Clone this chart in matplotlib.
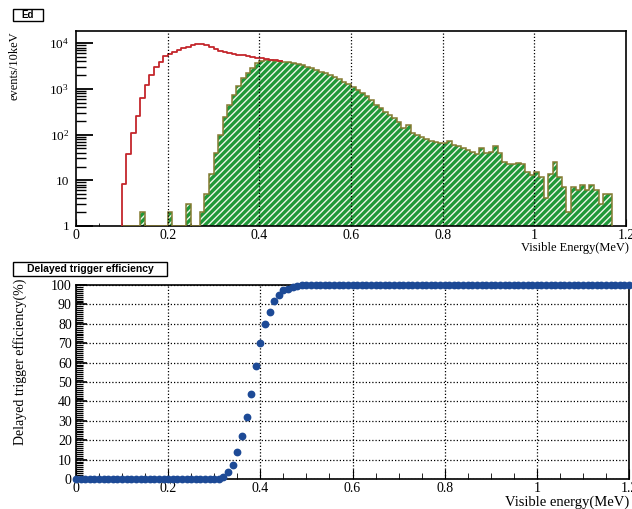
import numpy as np
import matplotlib
matplotlib.use('Agg')
import matplotlib.pyplot as plt
from matplotlib.patches import Rectangle
from matplotlib.ticker import MultipleLocator, FixedLocator, NullFormatter

plt.rcParams['font.family'] = ['Liberation Serif', 'DejaVu Serif']
plt.rcParams['mathtext.fontset'] = 'custom'
plt.rcParams['mathtext.rm'] = 'Liberation Serif'
plt.rcParams['hatch.linewidth'] = 1.0

# --- top panel: Ed spectrum, 10 keV bins ---
# all delayed candidates (red line), bins starting at 0.10 MeV
red_start = 0.10
red_counts = [8.3, 38, 107, 255, 620, 1220, 2000, 2950, 3940, 5250,
              5800, 6500, 7100, 7700, 8400, 9100, 9600, 9600, 9100, 8100,
              7350, 6750, 6300, 6000, 5800, 5600, 5400, 5200, 5000, 4850,
              4800, 4600, 4400, 4200, 4050]
# triggered events (green hatched), bins 0.10 .. 1.16 MeV
green_start = 0.10
green_counts = [0, 0, 0, 0, 2, 0, 0, 0, 0, 0, 2, 0, 0, 0, 3, 0, 0, 2, 5, 14,
                39, 98, 240, 445, 740, 1150, 1700, 2250, 2900, 3600,
                4000, 4200, 4250, 4150, 4000, 3900, 3800, 3650, 3500, 3300,
                3050, 2820, 2600, 2400, 2180, 1980, 1800, 1620, 1450, 1280,
                1120, 970, 830, 700, 560, 445, 375, 317, 268, 227,
                192, 140, 160, 107, 98, 87, 79, 74, 70, 66,
                65, 74, 59, 55, 50, 45, 42, 38, 50, 40,
                42, 55, 39, 25, 23, 23, 24, 23, 15, 13,
                15, 12, 4, 14, 25, 12, 7, 2, 7, 6,
                8, 6, 8, 6, 3, 5, 5]
bin_w = 0.01

# --- bottom panel: delayed trigger efficiency (%) every 10 keV ---
eff_energy = np.round(np.arange(0, 121) * 0.01, 2)
eff_values = ([0] * 32
              + [1, 3.5, 7, 14, 22, 32, 44, 58, 70, 80, 86, 92, 95, 97.5, 98, 99, 99.5]
              + [100] * 72)

x_ticks = [0, 0.2, 0.4, 0.6, 0.8, 1.0, 1.2]
x_labels = ['0', '0.2', '0.4', '0.6', '0.8', '1', '1.2']

W, H = 632, 509


def fx(px):
    return px / W


def fy(py):
    return 1 - py / H


fig = plt.figure(figsize=(W / 100, H / 100), dpi=100)
fig.patch.set_facecolor('white')

ax1 = fig.add_axes([fx(76), fy(226), fx(626) - fx(76), fy(31) - fy(226)])
ax2 = fig.add_axes([fx(76), fy(479), fx(629) - fx(76), fy(285) - fy(479)])

dot = (0, (1, 1.6))

# top histogram
g = np.array(green_counts, dtype=float)
g_edges = np.round(green_start + bin_w * np.arange(len(g) + 1), 3)
g_draw = np.where(g > 0, g, 1)
r = np.array(red_counts, dtype=float)
r_x = np.round(red_start + bin_w * np.arange(len(r) + 1), 3)

ax1.set_yscale('log')
ax1.stairs(g_draw, g_edges, baseline=1, fill=True, facecolor='#1f9838',
           edgecolor='#eef6e8', hatch='/////', linewidth=0, zorder=2)
ax1.stairs(g_draw, g_edges, baseline=1, color='#857a32', linewidth=1.1, zorder=3)
ax1.plot(np.r_[r_x[0], r_x], np.r_[1, r, r[-1]], drawstyle='steps-post',
         color='#c4262c', linewidth=1.3, zorder=4)

ax1.set_xlim(0, 1.2)
ax1.set_ylim(1, 1.85e4)
ax1.set_xticks(x_ticks, x_labels)
ax1.xaxis.set_minor_locator(MultipleLocator(0.05))
ax1.yaxis.set_major_locator(FixedLocator([1, 10, 100, 1000, 10000]))
ax1.set_yticklabels(['1', '10', r'$\mathregular{10^{2}}$', r'$\mathregular{10^{3}}$',
                     r'$\mathregular{10^{4}}$'])
minors = [m * 10 ** d for d in range(0, 5) for m in range(2, 10)]
ax1.yaxis.set_minor_locator(FixedLocator(minors))
ax1.yaxis.set_minor_formatter(NullFormatter())
ax1.tick_params(axis='y', which='major', direction='in', length=12, width=1.3,
                labelsize=9.5, pad=5)
ax1.tick_params(axis='y', which='minor', direction='in', length=7, width=1.0)
ax1.tick_params(axis='x', which='major', direction='in', length=5, labelsize=10, pad=2)
ax1.tick_params(axis='x', which='minor', direction='in', length=2.5)
for xv in x_ticks[1:-1]:
    ax1.axvline(xv, color='black', linestyle=dot, linewidth=0.9, zorder=5)
for s in ax1.spines.values():
    s.set_linewidth(1.2)

fig.text(fx(15), fy(66), 'events/10keV', rotation=90, ha='center', va='center',
         fontsize=9)
fig.text(fx(629), fy(248), 'Visible Energy(MeV)', ha='right', va='center', fontsize=9)

# bottom efficiency
ax2.plot(eff_energy, eff_values, 'o', color='#1d4a96', markersize=4.6, zorder=3,
         clip_on=False)
ax2.set_xlim(0, 1.2)
ax2.set_ylim(0, 100)
ax2.set_xticks(x_ticks, x_labels)
ax2.xaxis.set_minor_locator(MultipleLocator(0.05))
ax2.set_yticks(np.arange(0, 101, 10))
ax2.yaxis.set_minor_locator(MultipleLocator(1))
ax2.tick_params(axis='y', which='major', direction='in', length=8, width=1.2,
                labelsize=10, pad=3)
ax2.tick_params(axis='y', which='minor', direction='in', length=5, width=0.9)
ax2.tick_params(axis='x', which='major', direction='in', length=7, labelsize=10, pad=2)
ax2.tick_params(axis='x', which='minor', direction='in', length=4)
ax2.grid(True, which='major', color='black', linestyle=dot, linewidth=0.9)
for s in ax2.spines.values():
    s.set_linewidth(1.2)

fig.text(fx(20), fy(362), 'Delayed trigger efficiency(%)', rotation=90,
         ha='center', va='center', fontsize=10)
fig.text(fx(629), fy(502), 'Visible energy(MeV)', ha='right', va='center',
         fontsize=10.5)

# ROOT-style title boxes
for (x0, y0, x1, y1, label, fs) in [(13, 9, 43, 21, 'Ed', 7),
                                     (13, 262, 167, 276, 'Delayed trigger efficiency', 7.5)]:
    fig.patches.append(Rectangle((fx(x0), fy(y1)), fx(x1) - fx(x0), fy(y0) - fy(y1),
                                 transform=fig.transFigure, facecolor='white',
                                 edgecolor='black', linewidth=1.0))
    fig.text(fx((x0 + x1) / 2), fy((y0 + y1) / 2), label, ha='center', va='center',
             fontsize=fs, fontweight='bold', family=['Liberation Sans', 'DejaVu Sans'])

fig.savefig('out.png', dpi=100, facecolor='white')
